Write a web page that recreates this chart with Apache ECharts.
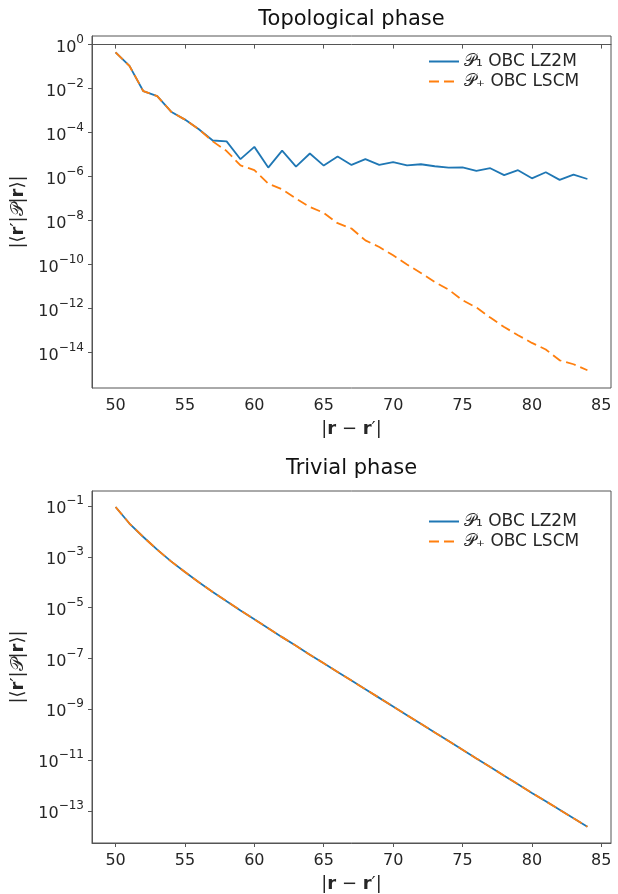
<!DOCTYPE html>
<html><head><meta charset="utf-8">
<script src="https://cdn.jsdelivr.net/npm/echarts@6/dist/echarts.min.js"></script>
<style>html,body{margin:0;padding:0;background:#fff}#c{width:618px;height:894px}</style>
</head><body><div id="c"></div>
<script>
// |r - r'| separations
const separations = [50,51,52,53,54,55,56,57,58,59,60,61,62,63,64,65,66,67,68,69,70,71,72,73,74,75,76,77,78,79,80,81,82,83,84];
// Topological phase
const topoLZ2M = [4.47e-1,1.07e-1,7.59e-3,4.57e-3,8.91e-4,3.89e-4,1.41e-4,4.37e-5,3.98e-5,6.17e-6,2.24e-5,2.57e-6,1.51e-5,2.82e-6,1.12e-5,3.16e-6,8.13e-6,3.39e-6,6.17e-6,3.39e-6,4.57e-6,3.24e-6,3.63e-6,2.95e-6,2.57e-6,2.63e-6,1.82e-6,2.40e-6,1.17e-6,1.95e-6,8.32e-7,1.58e-6,7.08e-7,1.23e-6,7.76e-7];
const topoLSCM = [4.47e-1,1.07e-1,7.59e-3,4.57e-3,8.91e-4,3.89e-4,1.41e-4,3.98e-5,1.45e-5,3.24e-6,1.95e-6,4.79e-7,2.63e-7,1.0e-7,4.17e-8,2.24e-8,7.59e-9,4.37e-9,1.26e-9,6.31e-10,2.63e-10,1.0e-10,4.17e-11,1.62e-11,7.24e-12,2.40e-12,1.12e-12,3.89e-13,1.45e-13,6.17e-14,2.75e-14,1.38e-14,4.47e-15,2.95e-15,1.58e-15];
// Trivial phase
const trivLZ2M = [9.12e-2,2.04e-2,6.03e-3,1.91e-3,6.61e-4,2.51e-4,1.0e-4,4.17e-5,1.78e-5,7.76e-6,3.47e-6,1.55e-6,6.92e-7,3.16e-7,1.41e-7,6.46e-8,2.95e-8,1.35e-8,6.17e-9,2.82e-9,1.29e-9,5.89e-10,2.69e-10,1.23e-10,5.62e-11,2.57e-11,1.17e-11,5.37e-12,2.45e-12,1.12e-12,5.13e-13,2.40e-13,1.12e-13,5.13e-14,2.40e-14];
const trivLSCM = [9.12e-2,2.04e-2,6.03e-3,1.91e-3,6.61e-4,2.51e-4,1.0e-4,4.17e-5,1.78e-5,7.76e-6,3.47e-6,1.55e-6,6.92e-7,3.16e-7,1.41e-7,6.46e-8,2.95e-8,1.35e-8,6.17e-9,2.82e-9,1.29e-9,5.89e-10,2.69e-10,1.23e-10,5.62e-11,2.57e-11,1.17e-11,5.37e-12,2.45e-12,1.12e-12,5.13e-13,2.40e-13,1.12e-13,5.13e-14,2.40e-14];
// tick labels
const xTicks = [50,55,60,65,70,75,80,85];
const topoDecades = [0,-2,-4,-6,-8,-10,-12,-14];
const trivDecades = [-1,-3,-5,-7,-9,-11,-13];
const seriesNames = ['𝒫₁ OBC LZ2M','𝒫₊ OBC LSCM'];
const titles = ['Topological phase','Trivial phase'];

const FONT = 'DejaVu Sans';
const TXT = '#262626';
const AX = '#555555';
const BLUE = '#1f77b4', ORANGE = '#ff7f0e';

const chart = echarts.init(document.getElementById('c'), null, {renderer:'canvas'});

function yLabel(v){
  const n = Math.round(v);
  return '{b|10}{s|' + (n === 0 ? '0' : '\u2212' + Math.abs(n)) + '}';
}
const yRich = {
  b:{fontSize:16, fontFamily:FONT, color:TXT, lineHeight:22, verticalAlign:'bottom'},
  s:{fontSize:12, fontFamily:FONT, color:TXT, lineHeight:13, verticalAlign:'top'}
};
function nameRich(sz){
  return {
    a:{fontSize:sz, fontFamily:FONT, color:TXT},
    r:{fontSize:sz, fontFamily:FONT, color:TXT, fontWeight:'bold'},
    p:{fontSize:sz, fontFamily:FONT, color:TXT}
  };
}
const yName = '{a||⟨}{r|r}{a|′|}{p|𝒫}{a||}{r|r}{a|⟩|}';
const xName = '{a||}{r|r}{a| − }{r|r}{a|′|}';

const grids = [
  {left:92, top:36, width:519, height:352, show:true, borderColor:AX, borderWidth:1},
  {left:92, top:491, width:519, height:352, show:true, borderColor:AX, borderWidth:1}
];

function xAxis(i){
  return {
    type:'value', gridIndex:i, min:48.3, max:85.7,
    axisLine:{show:true, lineStyle:{color:AX, width:1}},
    axisTick:{show:true, inside:false, length:4, lineStyle:{color:AX}, customValues:xTicks},
    axisLabel:{color:TXT, fontSize:16, fontFamily:FONT, margin:10, customValues:xTicks},
    splitLine:{show:false},
    name:xName, nameLocation:'middle', nameGap:32,
    nameTextStyle:{rich:nameRich(18)}
  };
}
function yAxis(i, mn, mx, ticks){
  return {
    type:'value', gridIndex:i, min:mn, max:mx,
    axisLine:{show:true, lineStyle:{color:AX, width:1}},
    axisTick:{show:true, inside:false, length:4, lineStyle:{color:AX}, customValues:ticks},
    axisLabel:{formatter:yLabel, rich:yRich, margin:8, customValues:ticks},
    splitLine:{show:false},
    name:yName, nameLocation:'middle', nameRotate:90, nameGap:55,
    nameTextStyle:{rich:nameRich(18)}
  };
}
function pts(vals){ return separations.map((x,i)=>[x, Math.log10(vals[i])]); }
function mkSeries(name, vals, idx, color, dashed, z){
  return {
    type:'line', name:name, xAxisIndex:idx, yAxisIndex:idx,
    data:pts(vals), symbol:'none', showSymbol:false, smooth:false, z:z,
    lineStyle:{color:color, width:1.8, type: dashed ? [10,5] : 'solid'},
    itemStyle:{color:color}, animation:false
  };
}
function legend(top){
  return {
    orient:'vertical', left:428, top:top, itemWidth:30, itemHeight:14, itemGap:3,
    padding:0,
    itemStyle:{opacity:0},
    textStyle:{fontSize:17, fontFamily:FONT, color:TXT, lineHeight:16},
    data:seriesNames, selectedMode:false
  };
}

chart.setOption({
  backgroundColor:'#ffffff',
  animation:false,
  title:[
    {text:titles[0], left:351.5, top:9, textAlign:'center', padding:0,
     textStyle:{fontSize:21, fontWeight:'normal', fontFamily:FONT, color:'#111'}},
    {text:titles[1], left:351.5, top:458, textAlign:'center', padding:0,
     textStyle:{fontSize:21, fontWeight:'normal', fontFamily:FONT, color:'#111'}}
  ],
  grid:grids,
  xAxis:[xAxis(0), xAxis(1)],
  yAxis:[yAxis(0,-15.61,0.39,topoDecades), yAxis(1,-14.26,-0.41,trivDecades)],
  legend:[legend(53), legend(513)],
  series:[
    mkSeries(seriesNames[0], topoLZ2M, 0, BLUE, false, 2),
    mkSeries(seriesNames[1], topoLSCM, 0, ORANGE, true, 3),
    mkSeries(seriesNames[0], trivLZ2M, 1, BLUE, false, 2),
    mkSeries(seriesNames[1], trivLSCM, 1, ORANGE, true, 3)
  ]
});
</script>
</body></html>
